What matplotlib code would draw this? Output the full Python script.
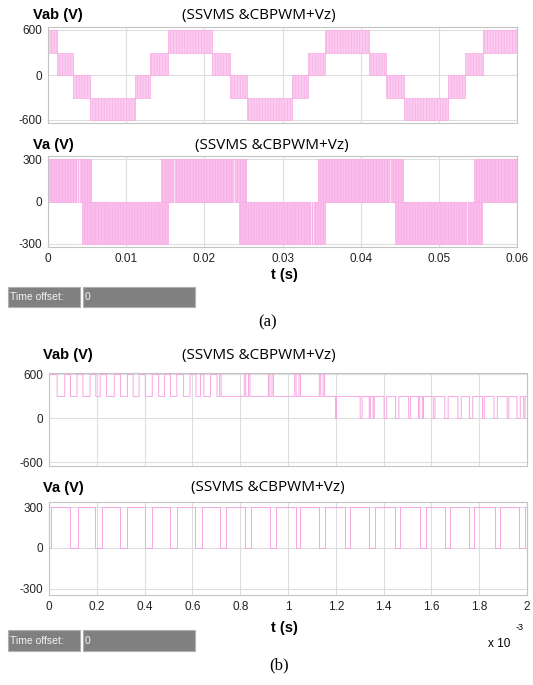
import matplotlib
matplotlib.use("Agg")
import matplotlib.pyplot as plt
from matplotlib.patches import Rectangle

W, H = 533, 685

# ---- (a) 0..0.06 s, switching bands ----
# Vab: band edges (s) and lower level of each band (band is 300 V tall)
vab_a_edges = [0, 0.00116, 0.00315, 0.0054, 0.0111, 0.0131, 0.0154, 0.0210,
               0.0233, 0.0254, 0.0312, 0.0333, 0.0355, 0.0411, 0.0432,
               0.0455, 0.0512, 0.0534, 0.0556, 0.06]
vab_a_low = [300, 0, -300, -600, -300, 0, 300, 0, -300, -600, -300, 0,
             300, 0, -300, -600, -300, 0, 300]

# Va: positive band (0..300) and negative band (-300..0) intervals
va_a_pos_start = [0, 0.0144, 0.0345, 0.0545]
va_a_pos_end = [0.0055, 0.0253, 0.0454, 0.06]
va_a_neg_start = [0.0043, 0.0244, 0.0444]
va_a_neg_end = [0.0154, 0.0355, 0.0555]
# light streaks seen inside the bands
va_a_streaks = [0.0037, 0.0040, 0.0161, 0.0238, 0.0336, 0.0339, 0.0437, 0.0536]

# ---- (b) 0..2 ms zoom, single switching trace ----
# Vab: base 300 V, pulses up to 600 V, dips down to 0 V (times in ms)
vab_b_up_start = [0.002, 0.066, 0.117, 0.172, 0.214, 0.273, 0.328, 0.377,
                  0.432, 0.483, 0.535, 0.590, 0.634, 0.676, 0.714, 0.817,
                  0.835, 0.918, 0.933, 1.028, 1.046, 1.131, 1.147]
vab_b_up_end = [0.034, 0.090, 0.142, 0.196, 0.241, 0.299, 0.352, 0.403,
                0.459, 0.508, 0.563, 0.615, 0.648, 0.703, 0.720, 0.823,
                0.841, 0.924, 0.939, 1.034, 1.052, 1.137, 1.153]
vab_b_dn_start = [1.199, 1.302, 1.340, 1.356, 1.402, 1.450, 1.505, 1.546,
                  1.562, 1.608, 1.656, 1.711, 1.759, 1.814, 1.862, 1.917,
                  1.958, 1.986]
vab_b_dn_end = [1.203, 1.310, 1.345, 1.361, 1.413, 1.464, 1.512, 1.551,
                1.567, 1.615, 1.670, 1.725, 1.773, 1.821, 1.876, 1.924,
                1.972, 1.992]

# Va: base 300 V with dips to 0 V (ms)
va_b_dn_start = [0.0, 0.088, 0.192, 0.297, 0.401, 0.506, 0.612, 0.715, 0.820,
                 0.925, 1.032, 1.131, 1.237, 1.340, 1.447, 1.553, 1.656,
                 1.759, 1.866, 1.968]
va_b_dn_end = [0.008, 0.120, 0.221, 0.328, 0.432, 0.537, 0.640, 0.742, 0.845,
               0.949, 1.050, 1.155, 1.258, 1.363, 1.468, 1.576, 1.679,
               1.780, 1.886, 1.990]

PINK_FACE = "#fcccf0"
PINK_FACE2 = "#fbbdec"
PINK_LINE = "#f6ade4"
TRACE = "#f8a6e1"
GRID = "#dedede"
FRAME = "#c4c4c4"

plt.rcParams["hatch.linewidth"] = 0.5
plt.rcParams["font.family"] = ["Liberation Sans", "DejaVu Sans"]

fig = plt.figure(figsize=(W / 100, H / 100), dpi=100)


def add_ax(l, t, r, b):
    return fig.add_axes([l / W, 1 - b / H, (r - l) / W, (b - t) / H])


def style(ax, xlim, ylim, xticks, yticks, xlabels=None):
    ax.set_xlim(xlim)
    ax.set_ylim(ylim)
    ax.set_xticks(xticks)
    ax.set_yticks(yticks)
    ax.set_yticklabels([str(v) for v in yticks])
    if xlabels is None:
        ax.set_xticklabels([])
    else:
        ax.set_xticklabels(xlabels)
    ax.grid(True, color=GRID, lw=0.8)
    ax.set_axisbelow(True)
    ax.tick_params(length=0, labelsize=8.5, colors="#222222", pad=4)
    for s in ax.spines.values():
        s.set_color(FRAME)
        s.set_linewidth(0.8)


def band(ax, t0, t1, lo, hi, face=PINK_FACE):
    ax.fill_between([t0, t1], [lo, lo], [hi, hi], facecolor=face,
                    edgecolor=PINK_LINE, hatch="||||||", lw=0.5)


def step_trace(base, starts, ends, level):
    # build a step waveform from (start, end) event lists
    ts, vs = [], []
    for s, e, lv in zip(starts, ends, level):
        ts += [s, s, e, e]
        vs += [base, lv, lv, base]
    return ts, vs


def titles(name, name_x, tit_x, y):
    fig.text(name_x / W, 1 - y / H, name, fontsize=10.5, fontweight="bold",
             ha="left", va="center")
    fig.text(tit_x / W, 1 - y / H, "(SSVMS &CBPWM+Vz)", fontsize=11,
             ha="center", va="center", family=["Open Sans", "DejaVu Sans"])


def time_offset(x0, y0, y1):
    for (a, b), txt in [((x0, x0 + 72), "Time offset:"), ((x0 + 75, x0 + 187), "0")]:
        fig.patches.append(Rectangle((a / W, 1 - y1 / H), (b - a) / W, (y1 - y0) / H,
                                     transform=fig.transFigure, facecolor="#808080",
                                     edgecolor="#b0b0b0", lw=0.8))
        fig.text((a + 2) / W, 1 - (y0 + y1) / 2 / H, txt, fontsize=7.5,
                 color="#f4f4f4", ha="left", va="center")


# ---- (a) Vab ----
ax1 = add_ax(48, 27, 517, 123)
for i in range(len(vab_a_low)):
    band(ax1, vab_a_edges[i], vab_a_edges[i + 1], vab_a_low[i], vab_a_low[i] + 300)
style(ax1, (0, 0.06), (-640, 640), [0, 0.01, 0.02, 0.03, 0.04, 0.05, 0.06],
      [-600, 0, 600])
titles("Vab (V)", 33, 259, 15)

# ---- (a) Va ----
ax2 = add_ax(48, 156, 517, 247)
for s, e in zip(va_a_pos_start, va_a_pos_end):
    band(ax2, s, e, 0, 300, PINK_FACE2)
for s, e in zip(va_a_neg_start, va_a_neg_end):
    band(ax2, s, e, -300, 0, PINK_FACE2)
ax2.vlines(va_a_streaks, -300, 300, colors="white", lw=0.7, alpha=0.6)
style(ax2, (0, 0.06), (-322, 322), [0, 0.01, 0.02, 0.03, 0.04, 0.05, 0.06],
      [-300, 0, 300], ["0", "0.01", "0.02", "0.03", "0.04", "0.05", "0.06"])
titles("Va (V)", 33, 272, 145)
fig.text(284 / W, 1 - 275 / H, "t (s)", fontsize=10.5, fontweight="bold",
         ha="center", va="center")
time_offset(8, 287, 307)
fig.text(268 / W, 1 - 322 / H, "(a)", fontsize=12, ha="center", va="center",
         family=["Liberation Serif", "DejaVu Serif"])

# ---- (b) Vab ----
ax3 = add_ax(49, 373, 527, 466)
t_up, v_up = step_trace(300, vab_b_up_start, vab_b_up_end, [600] * len(vab_b_up_start))
t_dn, v_dn = step_trace(300, vab_b_dn_start, vab_b_dn_end, [0] * len(vab_b_dn_start))
ax3.plot([0] + t_up + t_dn + [2.0], [0] + v_up + v_dn + [300], color=TRACE, lw=0.7)
xt = [0, 0.2, 0.4, 0.6, 0.8, 1.0, 1.2, 1.4, 1.6, 1.8, 2.0]
style(ax3, (0, 2.0), (-650, 620), xt, [-600, 0, 600])
titles("Vab (V)", 43, 259, 355)

# ---- (b) Va ----
ax4 = add_ax(49, 502, 527, 595)
t_va, v_va = step_trace(300, va_b_dn_start, va_b_dn_end, [0] * len(va_b_dn_start))
ax4.plot(t_va + [2.0], v_va + [300], color=TRACE, lw=0.7)
style(ax4, (0, 2.0), (-348, 340), xt, [-300, 0, 300],
      ["0", "0.2", "0.4", "0.6", "0.8", "1", "1.2", "1.4", "1.6", "1.8", "2"])
titles("Va (V)", 43, 268, 488)
fig.text(284 / W, 1 - 628 / H, "t (s)", fontsize=10.5, fontweight="bold",
         ha="center", va="center")
fig.text(488 / W, 1 - 644 / H, "x 10", fontsize=8.5, ha="left", va="center")
fig.text(516 / W, 1 - 627 / H, "-3", fontsize=6.5, ha="left", va="center")
time_offset(8, 630, 651)
fig.text(279 / W, 1 - 665 / H, "(b)", fontsize=12, ha="center", va="center",
         family=["Liberation Serif", "DejaVu Serif"])

fig.savefig("out.png", dpi=100)
